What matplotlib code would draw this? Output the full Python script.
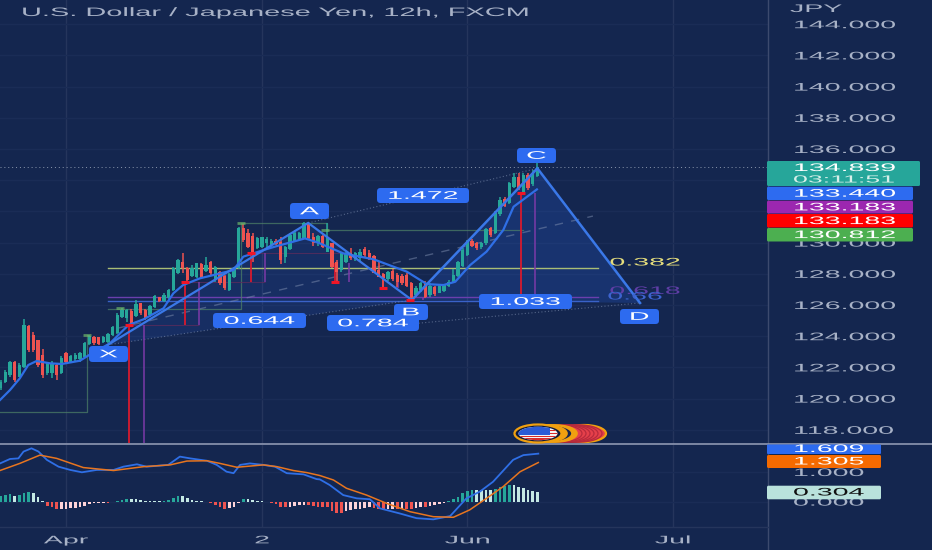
import matplotlib
matplotlib.use("Agg")
import matplotlib.pyplot as plt
from matplotlib.patches import FancyBboxPatch, Ellipse, Polygon, Rectangle
from matplotlib.patheffects import AbstractPathEffect
from matplotlib.transforms import Affine2D

plt.rcParams['font.family'] = ['Liberation Sans', 'DejaVu Sans']

# ---------- data ----------
directions = ("GGGRGGRRRR" "GGRGRGGGGG" "RRGGGGGGRG" "RRGGRGGGGR" "RGGRGRGRRG" "GGRRRGGGGR"
              "RGGGGGRRGR" "GRRGGRGGRR" "RRRGRRRRRG" "GRGRGGGGGG" "GRRGGRGGRG" "GRGRGG")
body_top = [121.08,121.72,122.37,122.37,122.15,124.72,124.65,124.08,123.75,122.79,
            122.26,122.26,122.15,122.58,122.90,122.75,122.79,122.90,123.58,124.01,
            123.93,123.93,123.93,124.14,124.61,125.36,125.68,125.68,125.63,126.06,
            126.10,125.68,125.93,126.58,126.49,126.64,126.96,128.35,128.88,128.78,
            128.35,128.35,128.67,128.63,128.56,128.78,128.41,128.14,127.86,127.99,
            128.35,130.91,130.91,130.64,130.42,130.27,130.34,130.21,130.12,130.12,
            130.06,129.74,130.49,130.59,130.64,131.23,131.19,130.34,130.42,130.42,
            130.38,129.95,128.78,129.31,129.31,129.35,129.31,129.42,129.57,129.35,
            129.14,128.24,127.99,128.14,128.20,127.92,127.86,127.92,127.43,127.07,
            127.39,127.43,127.22,127.13,127.22,127.28,127.49,127.92,128.78,129.52,
            130.10,130.10,129.95,129.95,130.85,130.91,131.92,132.73,132.77,133.80,
            134.23,134.23,134.33,134.33,134.44,134.82]
body_bot = [120.66,121.08,121.51,121.19,121.40,122.04,123.11,123.11,122.15,121.51,
            121.62,121.62,121.51,121.62,122.37,122.37,122.52,122.52,122.69,123.50,
            123.54,123.50,123.65,123.65,124.08,124.18,125.25,125.14,124.72,125.29,
            125.46,125.14,125.36,125.85,126.28,126.28,126.43,126.96,128.07,128.35,
            127.60,127.86,127.77,127.77,128.20,128.03,127.60,127.39,127.07,126.96,
            127.77,128.35,130.17,129.74,129.31,129.63,129.74,129.99,129.85,129.91,
            128.88,129.05,129.57,130.12,130.21,130.27,130.27,129.95,129.95,129.74,
            129.42,128.46,128.14,128.24,128.78,128.99,128.93,128.99,129.20,128.99,
            128.07,127.82,127.71,127.64,127.64,127.49,127.39,127.22,126.36,126.64,
            126.96,126.53,126.64,126.70,126.79,126.92,127.22,127.49,127.86,128.50,
            129.20,129.78,129.63,129.70,129.95,130.49,130.64,131.83,132.35,132.56,
            133.58,133.48,133.26,133.48,133.76,134.27]
wick_top = [121.19,121.83,122.43,122.43,122.26,125.08,124.72,124.29,123.75,123.16,
            122.30,122.43,122.26,122.73,123.01,122.79,122.90,123.01,123.65,124.08,
            124.01,123.97,124.01,124.22,124.65,125.46,125.78,125.72,125.72,126.32,
            126.15,125.72,126.00,126.64,126.53,126.75,127.00,128.46,128.93,129.35,
            128.46,128.56,128.71,128.71,129.05,128.84,128.50,128.20,127.92,128.07,
            128.46,130.98,131.19,130.85,130.59,130.34,130.38,130.34,130.21,130.21,
            130.34,129.78,130.59,130.81,130.70,131.34,131.23,130.59,130.49,130.49,
            131.23,130.00,128.88,129.42,129.42,129.63,129.42,129.57,129.74,129.52,
            129.20,128.84,128.07,128.20,128.29,128.03,127.99,128.07,127.49,127.22,
            127.49,127.56,127.39,127.22,127.28,127.34,127.60,128.29,128.84,129.63,
            130.17,130.21,130.06,130.06,130.91,131.02,132.05,132.94,132.90,133.91,
            134.48,134.48,134.48,134.44,134.65,135.12]
wick_bot = [120.55,120.98,121.40,121.08,121.40,121.94,123.01,123.01,122.04,121.30,
            121.51,121.30,121.19,121.57,122.26,122.26,122.43,122.37,122.69,123.43,
            123.43,123.43,123.58,123.58,124.01,124.14,125.14,124.93,124.61,125.25,
            125.36,125.04,125.25,125.78,126.21,126.21,126.36,126.92,127.99,128.03,
            127.43,127.82,127.71,127.71,128.14,127.92,127.49,127.28,126.96,126.92,
            127.71,128.29,130.06,129.63,128.78,129.57,129.63,129.63,129.74,129.85,
            128.63,128.71,129.52,130.06,130.17,130.21,130.17,129.78,129.78,129.63,
            129.42,128.35,127.49,128.14,128.71,128.88,128.84,128.84,129.05,128.88,
            128.03,127.77,127.07,127.56,127.56,127.17,127.28,127.13,126.28,126.53,
            126.85,126.43,126.53,126.58,126.75,126.85,127.13,127.39,127.77,128.41,
            129.14,129.70,129.52,129.57,129.85,130.38,130.55,131.70,132.26,132.47,
            133.48,133.37,133.16,133.37,133.63,134.23]

ma_x = [-0.14,2,4.1,5.9,7.7,10.6,13.1,17,18.6,23.4,27.4,30.6,34.9,37,39.1,42.7,45.6,49.9,52,56.3,
        59.2,62.7,65.2,68,73.4,79.9,87,91.3,94.9,97.4,100.6,104.1,107.7,109.9,114.9]
ma_y = [119.91,120.55,121.30,122.15,122.41,122.26,122.22,122.43,122.73,123.54,124.72,125.08,125.79,
        126.75,127.28,127.71,127.92,128.24,129.10,129.52,129.78,130.06,130.27,130.0,129.31,128.93,
        128.14,127.34,127.28,127.49,128.56,129.42,130.81,132.30,133.41]

macd_x = [-0.14,2,3.8,4.9,6.6,8.1,9.9,12.4,14.9,17.4,20.6,24.2,26.3,29.2,31.3,35.9,38.4,40.6,44.2,46.3,
          48.4,49.9,51.3,53.4,56.3,58.8,61.3,64.9,67.7,68.4,70.5,73.4,76.3,79.1,81.3,85.5,89.1,92.7,
          96.3,99.8,102.7,105.5,109.8,112,115.2]
macd_y = [1.29,1.44,1.46,1.69,1.80,1.69,1.41,1.18,1.07,0.99,1.07,1.07,1.18,1.26,1.18,1.24,1.52,1.46,
          1.38,1.24,1.01,0.96,1.24,1.29,1.24,1.18,0.96,0.92,0.76,0.75,0.56,0.22,0.11,0.08,-0.23,-0.40,
          -0.56,-0.60,-0.49,0.11,0.34,0.67,1.41,1.57,1.62]
signal_x = [-0.14,4.1,8.4,12,17.7,24.2,30.6,36.3,39.9,44.2,47,50.6,56.3,59.2,62.7,65.6,68.4,71.3,74.1,
            78.4,82.7,87.7,92.7,97,100.5,104.1,107.7,111.3,115.2]
signal_y = [1.05,1.29,1.57,1.46,1.15,1.05,1.18,1.24,1.37,1.38,1.29,1.16,1.24,1.18,1.05,0.98,0.88,0.73,
            0.45,0.22,-0.06,-0.34,-0.51,-0.53,-0.28,0.11,0.51,1.01,1.32]
hist = [.19,.22,.25,.19,.22,.30,.31,.28,.17,.01,
        -.15,-.19,-.26,-.25,-.24,-.23,-.22,-.19,-.15,-.08,
        -.06,-.05,-.04,-.04,-.03,.03,.05,.09,.09,.09,
        .05,.03,.01,.01,.01,.02,.05,.11,.20,.19,
        .12,.07,.03,.01,0,-.06,-.13,-.17,-.26,-.23,
        -.19,-.06,.09,.09,.05,.03,.01,0,-.04,-.08,
        -.19,-.19,-.17,-.15,-.13,-.10,-.11,-.14,-.17,
        -.19,-.19,-.31,-.37,-.37,-.33,-.28,-.26,-.24,-.20,
        -.18,-.23,-.26,-.28,-.26,-.24,-.26,-.24,-.24,-.26,
        -.23,-.19,-.19,-.15,-.11,-.08,-.04,.02,.08,.14,
        .28,.37,.39,.39,.39,.39,.39,.43,.48,.53,.56,.56,.50,.47,.39,.36,.31]

pattern_x = [23.0, 65.9, 88.1, 115.0, 137.0]      # X A B C D
pattern_y = [123.45, 131.26, 126.32, 134.76, 126.13]
dash_x, dash_y = [24.9, 126.9], [124.5, 131.7]
bd_x, bd_y = [81.0, 137.0], [124.6, 126.13]

level_names = ["0.382", "0.618", "0.66"]
level_vals = [128.37, 126.53, 126.24]
level_x = [23, 128]
last_price = 134.839

red_x = [27.5, 39.5, 53.6, 71.6, 81.9, 87.7, 111.5]
purple_x = [30.7, 42.5, 56.6, 74.6, 85.1, 90.5, 114.5]
stick_top = [124.72, 127.47, 129.33, 128.7, 127.9, 126.5, 133.18]
stick_bot = [117.15, 124.72, 127.47, 127.47, 127.09, 126.3, 126.3]
red_mark_x = [27.5, 39.5, 53.6, 71.6, 81.9, 87.7, 111.5]
red_mark_y = [124.72, 127.47, 129.33, 127.47, 127.09, 126.3, 133.18]
link_x0 = [27.5, 39.5, 53.6]
link_x1 = [42.5, 56.6, 74.6]
link_y = [124.72, 127.47, 129.33]

green_seg_x = [[-1, 18.5, 18.5], [23, 51.5, 51.5, 70, 70, 112]]
green_seg_y = [[119.14, 119.14, 124.08], [125.74, 125.74, 131.26, 131.26, 130.81, 130.81]]
green_mark_x = [18.5, 25.5, 51.5, 69.5]
green_mark_y = [124.08, 125.8, 131.26, 130.81]

price_ticks = list(range(118, 146, 2))
hidden_price_ticks = [132, 134]       # these labels sit behind the price boxes in the reference
osc_ticks = [0, 1]
month_pos = [14, 56, 100, 144]
month_labels = ["Apr", "2", "Jun", "Jul"]
title_text = "U.S. Dollar / Japanese Yen, 12h, FXCM"

# ---------- style ----------
BG = "#14264f"
GRID = "#25355c"
TXT = "#a7b1c6"
BLUE = "#2d6bf0"
UP, DOWN = "#26a69a", "#ef5350"
W, H = 932, 550
PX0, PXS = 0.67, 4.667
XMIN = (0 - PX0) / PXS
XMAX = (768 - PX0) / PXS
SX = 2.6


class StretchX(AbstractPathEffect):
    def __init__(self, sx=SX, center=False):
        super().__init__()
        self.sx, self.center = sx, center

    def draw_path(self, renderer, gc, tpath, affine, rgbFace=None):
        cx = 0
        if self.center:
            e = tpath.get_extents()
            cx = (e.x0 + e.x1) / 2
        t = Affine2D().translate(-cx, 0).scale(self.sx, 1).translate(cx, 0) + affine
        renderer.draw_path(gc, tpath, t, rgbFace)


fig = plt.figure(figsize=(W / 100, H / 100), dpi=100, facecolor=BG)
top_py, sep_py, bot_py = 0, 443.5, 527
ax = fig.add_axes([0, 1 - sep_py / H, 768 / W, (sep_py - top_py) / H], facecolor=BG)
osc = fig.add_axes([0, 1 - bot_py / H, 768 / W, (bot_py - sep_py - 1) / H], facecolor=BG)
ov = fig.add_axes([0, 0, 1, 1], zorder=10)
ov.set_xlim(0, W); ov.set_ylim(H, 0); ov.axis("off"); ov.patch.set_visible(False)

for a in (ax, osc):
    a.set_xlim(XMIN, XMAX)
    for s in a.spines.values():
        s.set_visible(False)
    a.set_xticks(month_pos)
    a.grid(True, color=GRID, lw=1)
    a.set_axisbelow(True)
ax.set_ylim(136 - (443.5 - 149) / 15.6, 136 + 149 / 15.6)
osc.set_ylim((501.6 - (bot_py)) / 29.6, (501.6 - (sep_py + 1)) / 29.6)

# main axis ticks
ax.set_yticks(price_ticks)
ax.set_yticklabels(["" if v in hidden_price_ticks else f"{v:.3f}" for v in price_ticks])
ax.yaxis.tick_right()
ax.tick_params(axis="y", length=0, pad=18, labelsize=7.9, colors=TXT)
ax.tick_params(axis="x", length=0, labelbottom=False)
ax.yaxis.grid(True, color="#1a2c56", lw=1)
for lab in ax.get_yticklabels():
    lab.set_path_effects([StretchX()])

osc.set_yticks(osc_ticks)
osc.set_yticklabels([f"{v:.3f}" for v in osc_ticks])
osc.yaxis.tick_right()
osc.tick_params(axis="y", length=0, pad=18, labelsize=7.9, colors=TXT)
osc.yaxis.grid(True, color="#1a2c56", lw=1)
osc.set_xticks(month_pos)
osc.set_xticklabels(month_labels)
osc.tick_params(axis="x", length=0, pad=6, labelsize=7.9, colors=TXT)
for lab in osc.get_yticklabels():
    lab.set_path_effects([StretchX()])
for lab in osc.get_xticklabels():
    lab.set_path_effects([StretchX(center=True)])

# pattern fills
px, py = pattern_x, pattern_y
ax.add_patch(Polygon([(px[0], py[0]), (px[1], py[1]), (px[2], py[2])], closed=True,
                     fc=BLUE, alpha=0.13, ec="none", zorder=1))
ax.add_patch(Polygon([(px[2], py[2]), (px[3], py[3]), (px[4], py[4])], closed=True,
                     fc=BLUE, alpha=0.20, ec="none", zorder=1))

# levels
level_cols = ["#a9bd75", "#6a3fae", "#3a62c8"]
for v, c in zip(level_vals, level_cols):
    ax.plot(level_x, [v, v], color=c, lw=1, zorder=2)
ax.plot([XMIN, XMAX], [last_price, last_price], color="#8b97ad", lw=0.7, ls=(0, (1, 3)), zorder=2)

# green guides
for xs, ys in zip(green_seg_x, green_seg_y):
    ax.plot(xs, ys, color="#4f8468", lw=0.9, alpha=0.7, zorder=2)

# dashed / dotted guides
ax.plot(dash_x, dash_y, color="#7f8fb0", lw=1, ls=(0, (6, 6)), alpha=0.5, zorder=2)
ax.plot([px[1], px[3]], [py[1], py[3]], color="#7f8fb0", lw=0.8, ls=(0, (1, 2)), alpha=0.6, zorder=2)
ax.plot([px[0], px[2]], [py[0], py[2]], color="#7f8fb0", lw=0.8, ls=(0, (1, 2)), alpha=0.6, zorder=2)
ax.plot(bd_x, bd_y, color="#7f8fb0", lw=0.8, ls=(0, (1, 2)), alpha=0.6, zorder=2)

# red / purple sticks
ax.vlines(red_x, stick_bot, stick_top, color="#d81a2e", lw=1.3, zorder=3)
ax.vlines(purple_x, stick_bot, stick_top, color="#7c3aa8", lw=1.1, zorder=3)
ax.hlines(link_y, link_x0, link_x1, color="#5a2c5c", lw=0.8, alpha=0.8, zorder=2)

# candles
colors = [UP if d == "G" else DOWN for d in directions]
xs = list(range(len(directions)))
ax.vlines(xs, wick_bot, wick_top, color=colors, lw=1.1, zorder=4)
ax.bar(xs, [t - b for t, b in zip(body_top, body_bot)], bottom=body_bot, width=0.74,
       color=colors, lw=0, zorder=5)

# moving average and pattern outline
ax.plot(ma_x, ma_y, color="#2f6fe6", lw=1.6, zorder=6)
ax.plot(px[:3], py[:3], color="#3a78e8", lw=1.6, zorder=6, solid_joinstyle="miter")
ax.plot(px[2:], py[2:], color="#3a78e8", lw=1.8, zorder=6, solid_joinstyle="miter")

ax.plot(red_mark_x, red_mark_y, ls="", marker="_", ms=6, mew=2.2, color="#f01526", zorder=7)
ax.plot(green_mark_x, green_mark_y, ls="", marker="_", ms=6, mew=2.0, color="#6fb86a", alpha=.7, zorder=7)

# oscillator
hcol = []
prev = 0
for v in hist:
    if v >= 0:
        hcol.append(UP if v > prev else "#c4e8e4")
    else:
        hcol.append("#ffd3d8" if v > prev else DOWN)
    prev = v
osc.bar(range(len(hist)), hist, width=0.6, color=hcol, lw=0, zorder=3)
osc.plot(macd_x, macd_y, color="#2f6fe6", lw=1.3, zorder=4)
osc.plot(signal_x, signal_y, color="#e8751f", lw=1.1, zorder=5)


# ---------- pixel overlay ----------
def pill(x0, y0, x1, y1, fc, r=3.5, z=3):
    ov.add_patch(FancyBboxPatch((x0 + r, y0 + r), x1 - x0 - 2 * r, y1 - y0 - 2 * r,
                                boxstyle=f"round,pad={r}", fc=fc, ec="none", zorder=z))


def label(x, y, s, color="white", size=7.9, center=False, sx=SX, z=4):
    ov.text(x, y, s, color=color, fontsize=size, ha="center" if center else "left", va="center",
            path_effects=[StretchX(sx, center)], zorder=z)


# axis furniture
ov.plot([768, 768], [0, H], color="#3c4a6e", lw=1, zorder=1)
ov.plot([0, 768], [527, 527], color="#25355c", lw=1, zorder=1)
ov.plot([0, 932], [443.5, 443.5], color="#8e97b2", lw=1.2, zorder=2)

# pattern pills
for x0, y0, x1, y1, s in [(89, 346, 128, 362, "X"), (290, 203, 329, 219, "A"), (394, 304, 428, 320, "B"),
                          (517, 148, 556, 163, "C"), (620, 309, 659, 324, "D"),
                          (213, 313, 306, 328, "0.644"), (327, 315, 419, 331, "0.784"),
                          (377, 188, 469, 203, "1.472"), (479, 294, 572, 309, "1.033")]:
    pill(x0, y0, x1, y1, BLUE)
    label((x0 + x1) / 2, (y0 + y1) / 2 + 0.3, s, center=True)

# level names
label(645, 262.5, level_names[0], color="#e6de7c", center=True)
label(645, 291, level_names[1], color="#5f3ea6", center=True)
label(635, 296.5, level_names[2], color="#3d63cf", center=True)

# price boxes
pill(767, 161, 920, 186, UP, r=1.5)
label(793, 168, "134.839")
label(793, 179.5, "03:11:51", color="#d6efe9", size=7.4)
for y0, y1, c, s in [(186.7, 200, "#2d6bf0", "133.440"), (200.7, 213.5, "#9c27b0", "133.183"),
                     (214, 227.5, "#ff0000", "133.183"), (228, 241.5, "#4caf50", "130.812")]:
    pill(767, y0, 913, y1, c, r=1.5)
    label(793, (y0 + y1) / 2 + 0.3, s)
pill(767, 444.5, 881, 454, "#2d6bf0", r=1)
label(793, 449, "1.609")
pill(767, 455, 881, 468, "#f56a00", r=1.5)
label(793, 461.5, "1.305")
pill(767, 485.7, 881, 499.3, "#b9e2dc", r=1.5)
label(793, 492.5, "0.304", color="#111111")

# header
label(21, 13, title_text, color=TXT, size=8.8, sx=2.37)
label(790, 9, "JPY", color=TXT)

# event badge: red rings at the far right, orange rings nearer the flag
ov.add_patch(Ellipse((584, 433.5), 44, 17, fc="#e5404a", ec="#f0a010", lw=1.6, zorder=2))
for i, cx in enumerate([580, 576, 572, 568, 564, 560]):
    ov.add_patch(Ellipse((cx, 433.5), 44, 17, fc="#e5404a", ec="#b82a3c", lw=0.9, zorder=2))
for i, cx in enumerate([555, 550, 545]):
    ov.add_patch(Ellipse((cx, 433.5), 44, 17, fc="#f0a010" if i != 1 else "#16264f", ec="#f0a010", lw=1.2, zorder=2))
ov.add_patch(Ellipse((538, 433.5), 47, 18, fc="#10193a", ec="#f0a010", lw=1.6, zorder=3))
flag = Ellipse((538, 433.5), 39, 13.5, fc="#f4f4f4", ec="none", zorder=3)
ov.add_patch(flag)
for yy, h, xx, w, c in [(435.5, 1.6, 517, 44, "#d92b2b"), (438.4, 2.5, 517, 44, "#d92b2b"),
                        (429.5, 1.6, 550, 10, "#d92b2b"), (432.5, 1.6, 550, 10, "#d92b2b"),
                        (426, 9, 518, 32, "#2b5bd6")]:
    r_ = Rectangle((xx, yy), w, h, fc=c, ec="none", zorder=3)
    ov.add_patch(r_)
    r_.set_clip_path(flag)

fig.savefig("out.png", dpi=100, facecolor=BG)
